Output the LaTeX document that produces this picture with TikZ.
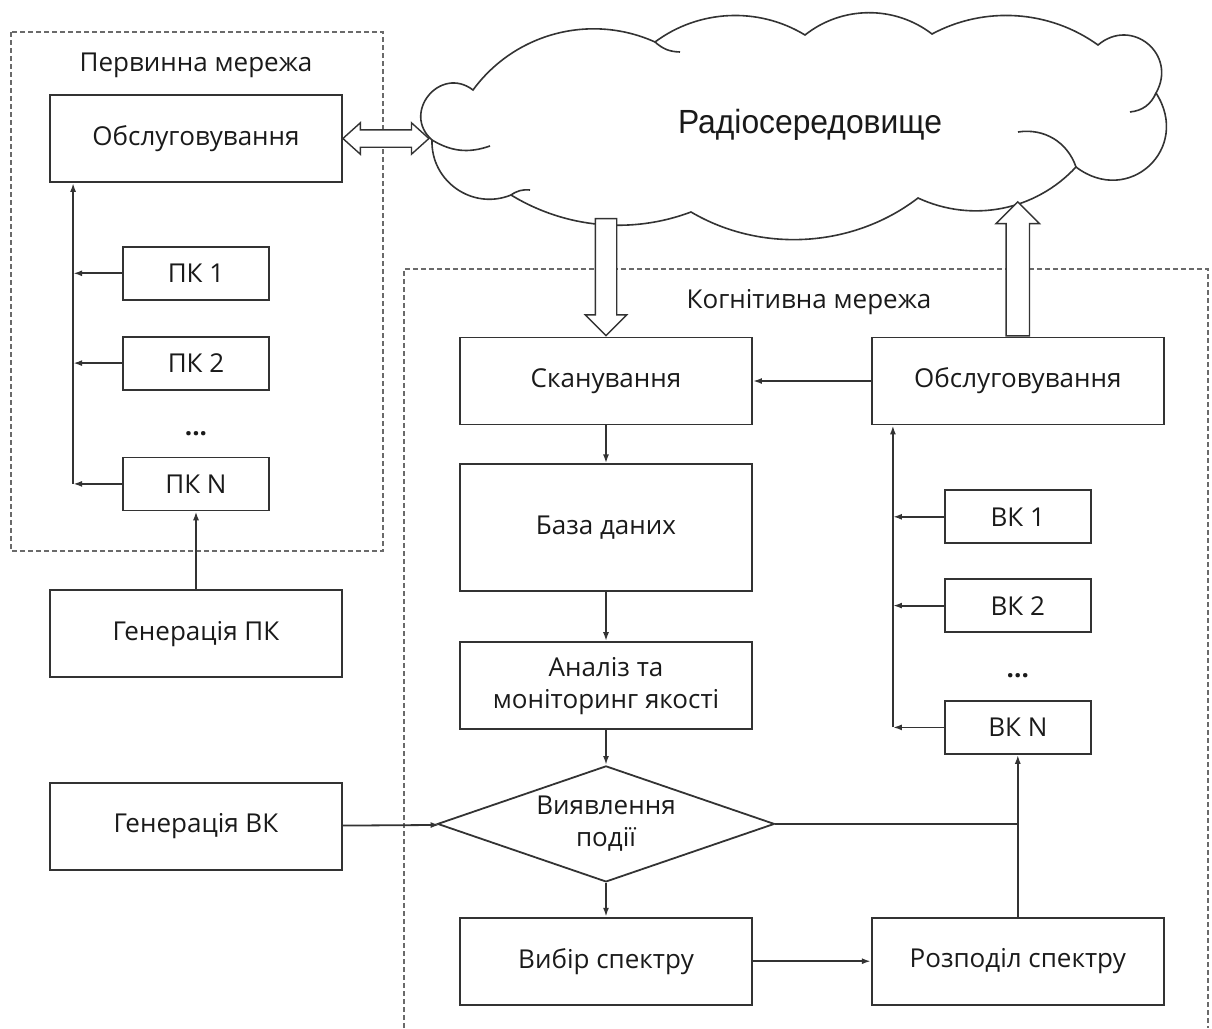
\documentclass[tikz,border=0pt]{standalone}
\usepackage{fontspec}
\setmainfont{Open Sans}
\newfontfamily\cloudfont[FakeStretch=0.95]{Liberation Sans}
\usetikzlibrary{shapes.geometric, shapes.arrows, arrows.meta, positioning}
\definecolor{linegray}{HTML}{333333}
\definecolor{dashgray}{HTML}{6A6A6A}
\definecolor{textgray}{HTML}{1A1A1A}

\begin{document}
\begin{tikzpicture}[x=1pt, y=-1pt, line width=1.8pt, every node/.style={font=\fontsize{26}{32}\selectfont, text=textgray}]
    % Styles for boxes and arrows
    \tikzstyle{box} = [rectangle, draw=linegray, minimum width=292pt, minimum height=87pt, align=center]
    \tikzstyle{tallbox} = [box, minimum height=127pt]
    \tikzstyle{smallbox} = [rectangle, draw=linegray, minimum width=146pt, minimum height=53pt]
    \tikzstyle{decision} = [diamond, draw=linegray, shape aspect=2.9, inner sep=0pt, minimum width=337pt, minimum height=116pt, align=center]
    \tikzstyle{arrow} = [draw=linegray, -{Latex[length=9pt, width=6pt]}]
    \tikzstyle{line} = [draw=linegray]
    \tikzstyle{frame} = [draw=dashgray, line width=1.3pt, dash pattern=on 5pt off 3pt]
    \tikzstyle{fat arrow} = [single arrow, draw=linegray, line width=1.4pt, fill=white, inner sep=10pt, single arrow head extend=10pt, single arrow tip angle=90]
    \tikzstyle{cloudline} = [draw=linegray, line width=1.6pt]

    \useasboundingbox (0,0) rectangle (1212,1028);

    % Frames of the two networks
    \draw[frame] (11,32) rectangle (383,551);
    \draw[frame] (404,1028) -- (404,269) -- (1208,269) -- (1208,1028);
    \node (primlabel) at (196,65) {Первинна мережа};
    \node (coglabel) at (809,302) {Когнітивна мережа};

    % Radio environment (cloud)
    \coordinate (c0) at (432,140);
    \coordinate (c1) at (473,90);
    \coordinate (c2) at (655,42);
    \coordinate (c3) at (805,35);
    \coordinate (c4) at (932,34);
    \coordinate (c5) at (1098,45);
    \coordinate (c6) at (1156,93);
    \coordinate (c7) at (1076,167);
    \coordinate (c8) at (918,198);
    \coordinate (c9) at (691,212);
    \coordinate (c10) at (511,195);
    \draw[cloudline, fill=white]
        (c0) to[bend left=88, looseness=1.63] (c1)
             to[bend left=39, looseness=0.96] (c2)
             to[bend left=34, looseness=0.93] (c3)
             to[bend left=38, looseness=0.95] (c4)
             to[bend left=32, looseness=0.92] (c5)
             to[bend left=80, looseness=1.5] (c6)
             to[bend left=80, looseness=1.55] (c7)
             to[bend left=36, looseness=0.95] (c8)
             to[bend left=34, looseness=0.92] (c9)
             to[bend left=26, looseness=0.9] (c10)
             to[bend left=57, looseness=1.10] cycle;
    \draw[cloudline] (c0) to[bend right=25] (490,146);
    \draw[cloudline] (1018,132) to[bend left=40] (c7);
    \draw[cloudline] (c6) to[bend left=30] (1130,112);
    \draw[cloudline] (c2) to[bend right=20] (680,52);
    \draw[cloudline] (c10) to[bend left=20] (530,190);
    \node (radio) at (810,125) {\cloudfont\fontsize{33.5}{40}\selectfont Радіосередовище};

    % Primary network
    \node[box] (sm1) at (196,138.5) {Обслуговування};
    \node[smallbox, below=63pt of sm1] (pk1) {ПК 1};
    \node[smallbox, below=35pt of pk1] (pk2) {ПК 2};
    \node[below=40pt of pk2, inner sep=0pt] (pkdots) {\textbf{...}};
    \node[smallbox, below=66pt of pk2] (pkN) {ПК N};
    \node[box, below=78pt of pkN] (genpk) {Генерація ПК};
    \node[box, below=104pt of genpk] (genvk) {Генерація ВК};

    % Cognitive network
    \node[box] (scan) at (606,381) {Сканування};
    \node[tallbox, below=38pt of scan] (db) {База даних};
    \node[box, below=49pt of db] (anal) {Аналіз та\\моніторинг якості};
    \node[decision, below=35pt of anal] (event) {Виявлення\\події};
    \node[box, below=34pt of event] (choose) {Вибір спектру};
    \node[box, right=118pt of choose] (distr) {Розподіл спектру};
    \node[box, right=118pt of scan] (sm2) {Обслуговування};
    \node[smallbox, below=64pt of sm2] (vk1) {ВК 1};
    \node[smallbox, below=34pt of vk1] (vk2) {ВК 2};
    \node[below=40pt of vk2, inner sep=0pt] (vkdots) {\textbf{...}};
    \node[smallbox, below=67pt of vk2] (vkN) {ВК N};

    % Hollow arrows to and from the radio environment
    \node[double arrow, draw=linegray, line width=1.4pt, fill=white, inner sep=8pt, double arrow head extend=7pt, double arrow tip angle=84, minimum height=86pt] (link) at ([xshift=43pt]sm1.east) {};
    \node[fat arrow, shape border rotate=270, minimum height=117pt, anchor=tip] (scanin) at (scan.north) {};
    \node[fat arrow, shape border rotate=90, inner sep=11pt, minimum height=134pt, anchor=tail] (smout) at (sm2.north) {};

    % Arrows
    \coordinate (busL) at ([xshift=24pt]sm1.south west);
    \draw[arrow] (pk1.west) -- (pk1.west -| busL);
    \draw[arrow] (pk2.west) -- (pk2.west -| busL);
    \draw[arrow] (pkN.west) -- (pkN.west -| busL);
    \draw[arrow] (pkN.west -| busL) -- (busL);
    \draw[arrow] (genpk) -- (pkN);
    \draw[arrow] (genvk) -- (event);

    \draw[arrow] (scan) -- (db);
    \draw[arrow] (db) -- (anal);
    \draw[arrow] (anal) -- (event);
    \draw[arrow] (event) -- (choose);
    \draw[arrow] (choose) -- (distr);
    \draw[arrow] (sm2) -- (scan);

    \coordinate (busR) at ([xshift=22pt]sm2.south west);
    \draw[arrow] (vk1.west) -- (vk1.west -| busR);
    \draw[arrow] (vk2.west) -- (vk2.west -| busR);
    \draw[arrow] (vkN.west) -- (vkN.west -| busR);
    \draw[arrow] (vkN.west -| busR) -- (busR);

    \coordinate (join) at (event.east -| distr.north);
    \draw[line] (event.east) -- (join);
    \draw[arrow] (distr.north) -- (vkN.south);
\end{tikzpicture}
\end{document}
